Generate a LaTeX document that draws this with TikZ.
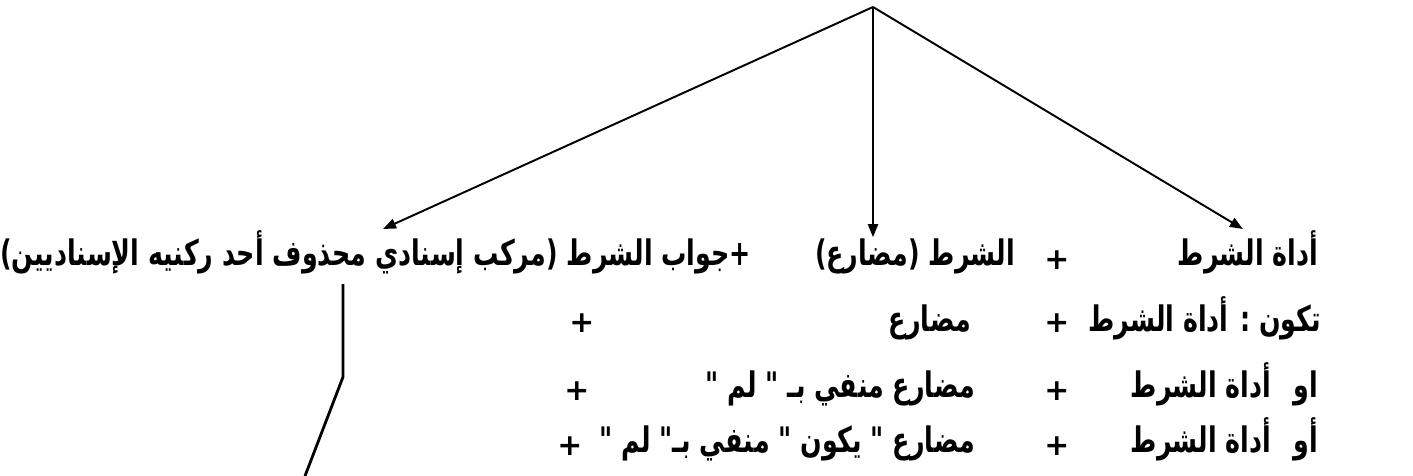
\documentclass[tikz,border=0pt]{standalone}
\usepackage{fontspec}
\newfontfamily\arabicfont[Script=Arabic,FakeStretch=0.72]{DejaVu Sans}
\newfontfamily\plusfont{DejaVu Sans}
\TeXXeTstate=1
\usepackage{tikz}
\usetikzlibrary{arrows.meta}
\tikzset{
  ar/.style={font=\arabicfont\bfseries\fontsize{20}{23}\selectfont, inner sep=1pt, anchor=base east},
  pl/.style={font=\plusfont\bfseries\fontsize{17}{20}\selectfont, inner sep=1pt},
  br/.style={-{Triangle[length=2.6mm,width=2mm]}, line width=1.1pt},
  ln/.style={line width=1.6pt}
}

\begin{document}
\begin{tikzpicture}[x=0.02cm,y=-0.02cm]
  \useasboundingbox (0,0) rectangle (1413,476);
  \coordinate (apex) at (873,7);
  % Row 1
  \node[ar] (adah) at (1320,266) {\beginR أداة الشرط\endR};
  \node[pl] (p1a) at (1057,260) {+};
  \node[ar] (shart) at (1017,266) {\beginR الشرط (مضارع)\endR};
  \node[ar] (jawab) at (753,266) {\beginR +جواب الشرط (مركب إسنادي محذوف أحد ركنيه الإسناديين)\endR};
  % Row 2
  \node[ar] (takun) at (1323,331) {\beginR تكون : أداة الشرط\endR};
  \node[pl] (p2a) at (1057,323) {+};
  \node[ar] (mud2) at (973,331) {\beginR مضارع\endR};
  \node[pl] (p2b) at (582,323) {+};
  % Row 3
  \node[ar] (aw3) at (1320,397) {\beginR او\endR};
  \node[ar] (adah3) at (1273,397) {\beginR أداة الشرط\endR};
  \node[pl] (p3a) at (1057,391) {+};
  \node[ar] (mud3) at (977,397) {\beginR مضارع منفي بـ " لم "\endR};
  \node[pl] (p3b) at (577,391) {+};
  % Row 4
  \node[ar] (aw4) at (1320,452) {\beginR أو\endR};
  \node[ar] (adah4) at (1273,452) {\beginR أداة الشرط\endR};
  \node[pl] (p4a) at (1057,446) {+};
  \node[ar] (mud4) at (977,452) {\beginR مضارع " يكون " منفي بـ" لم "\endR};
  \node[pl] (p4b) at (570,446) {+};
  % Branches from the top
  \draw[br] (apex) -- ([xshift=0.15cm]jawab.north);
  \draw[br] (apex) -- (apex |- shart.north);
  \draw[br] (apex) -- ([xshift=-0.1cm]adah.north);
  % Line below the answer
  \coordinate (bend) at (343,377);
  \coordinate (tail) at (305,476);
  \draw[ln] ([yshift=-0.15cm]jawab.south -| bend) -- (bend) -- (tail);
\end{tikzpicture}
\end{document}
